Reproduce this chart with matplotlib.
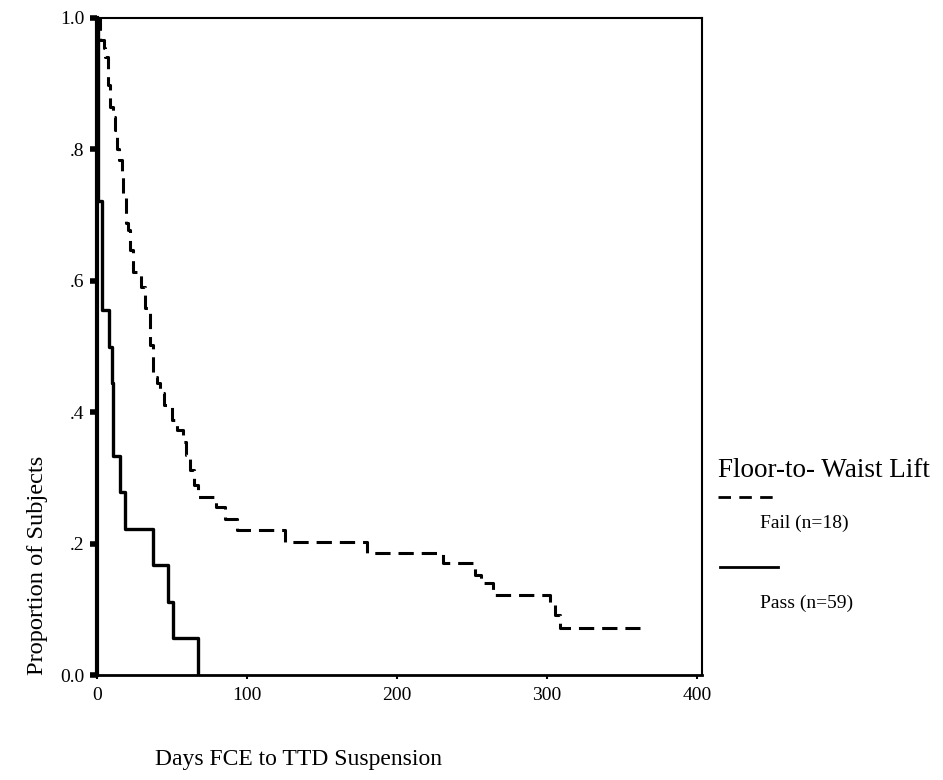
import matplotlib
matplotlib.use("Agg")
import matplotlib.pyplot as plt
from matplotlib.lines import Line2D

# ---- data ----
fail_days = [0, 2, 4.7, 5.3, 7.3, 8.7, 10.7, 12, 13.3, 14.7, 16.7, 17.3, 19.3, 20.7,
             22, 24, 29.3, 32, 35.3, 37.3, 40, 42, 44.7, 50, 53.3, 57.3, 59.3, 62,
             64.7, 67.3, 79.3, 85.3, 93.3, 125.3, 180, 230.7, 252, 256, 264, 302,
             305.3, 308.7, 362]
fail_surv = [1.0, 0.966, 0.954, 0.941, 0.898, 0.865, 0.849, 0.83, 0.80, 0.784, 0.758,
             0.728, 0.688, 0.677, 0.647, 0.613, 0.59, 0.559, 0.502, 0.454, 0.444,
             0.429, 0.411, 0.388, 0.373, 0.355, 0.335, 0.312, 0.289, 0.271, 0.256,
             0.237, 0.221, 0.202, 0.186, 0.170, 0.152, 0.140, 0.122, 0.107, 0.091,
             0.0715, 0.0715]

pass_days = [0, 0.5, 3, 8, 10, 10.7, 15.3, 18.7, 37.3, 47.3, 50.7, 67.3]
pass_surv = [1.0, 0.722, 0.556, 0.5, 0.444, 0.333, 0.278, 0.222, 0.167, 0.111, 0.056, 0.0]

yticks = [0.0, 0.2, 0.4, 0.6, 0.8, 1.0]
ytick_labels = ["0.0", ".2", ".4", ".6", ".8", "1.0"]
xticks = [0, 100, 200, 300, 400]
xtick_labels = ["0", "100", "200", "300", "400"]

legend_title = "Floor-to- Waist Lift"
fail_label = "Fail (n=18)"
pass_label = "Pass (n=59)"

plt.rcParams['font.family'] = ['Liberation Serif', 'DejaVu Serif']

W, H = 943, 780
fig = plt.figure(figsize=(W / 100, H / 100), dpi=100)
ax = fig.add_axes([97 / W, 1 - 675 / H, (702 - 97) / W, (675 - 18) / H])

ax.step(fail_days, fail_surv, where='post', color='black', lw=2.2,
        dashes=(5, 2.6), solid_joinstyle='miter')
ax.step(pass_days, pass_surv, where='post', color='black', lw=2.4)

ax.set_xlim(0, 403.3)
ax.set_ylim(0, 1.0)
ax.set_yticks(yticks)
ax.set_yticklabels(ytick_labels, fontsize=14)
ax.set_xticks(xticks)
ax.set_xticklabels(xtick_labels, fontsize=14)
ax.tick_params(axis='y', direction='out', length=5, width=4, pad=4)
ax.tick_params(axis='x', direction='out', length=3, width=1.5, pad=6)
for s in ax.spines.values():
    s.set_linewidth(1.5)
ax.spines['left'].set_linewidth(3)
ax.spines['bottom'].set_linewidth(2)

fig.text(155 / W, 1 - 765 / H, "Days FCE to TTD Suspension", fontsize=17,
         ha='left', va='baseline')
fig.text(38 / W, 1 - 565 / H, "Proportion of Subjects", fontsize=17.6,
         rotation=90, ha='center', va='center')

# legend (drawn manually in figure coords)
fig.text(718 / W, 1 - 477 / H, legend_title, fontsize=19.5, ha='left', va='baseline')
fig.add_artist(Line2D([718 / W, 776 / W], [1 - 497 / H, 1 - 497 / H], color='black',
                      lw=2, dashes=(4.5, 3)))
fig.text(760 / W, 1 - 528 / H, fail_label, fontsize=14, ha='left', va='baseline')
fig.add_artist(Line2D([720 / W, 778 / W], [1 - 567 / H, 1 - 567 / H], color='black',
                      lw=2))
fig.text(760 / W, 1 - 608 / H, pass_label, fontsize=14, ha='left', va='baseline')

fig.savefig("out.png", dpi=100)
